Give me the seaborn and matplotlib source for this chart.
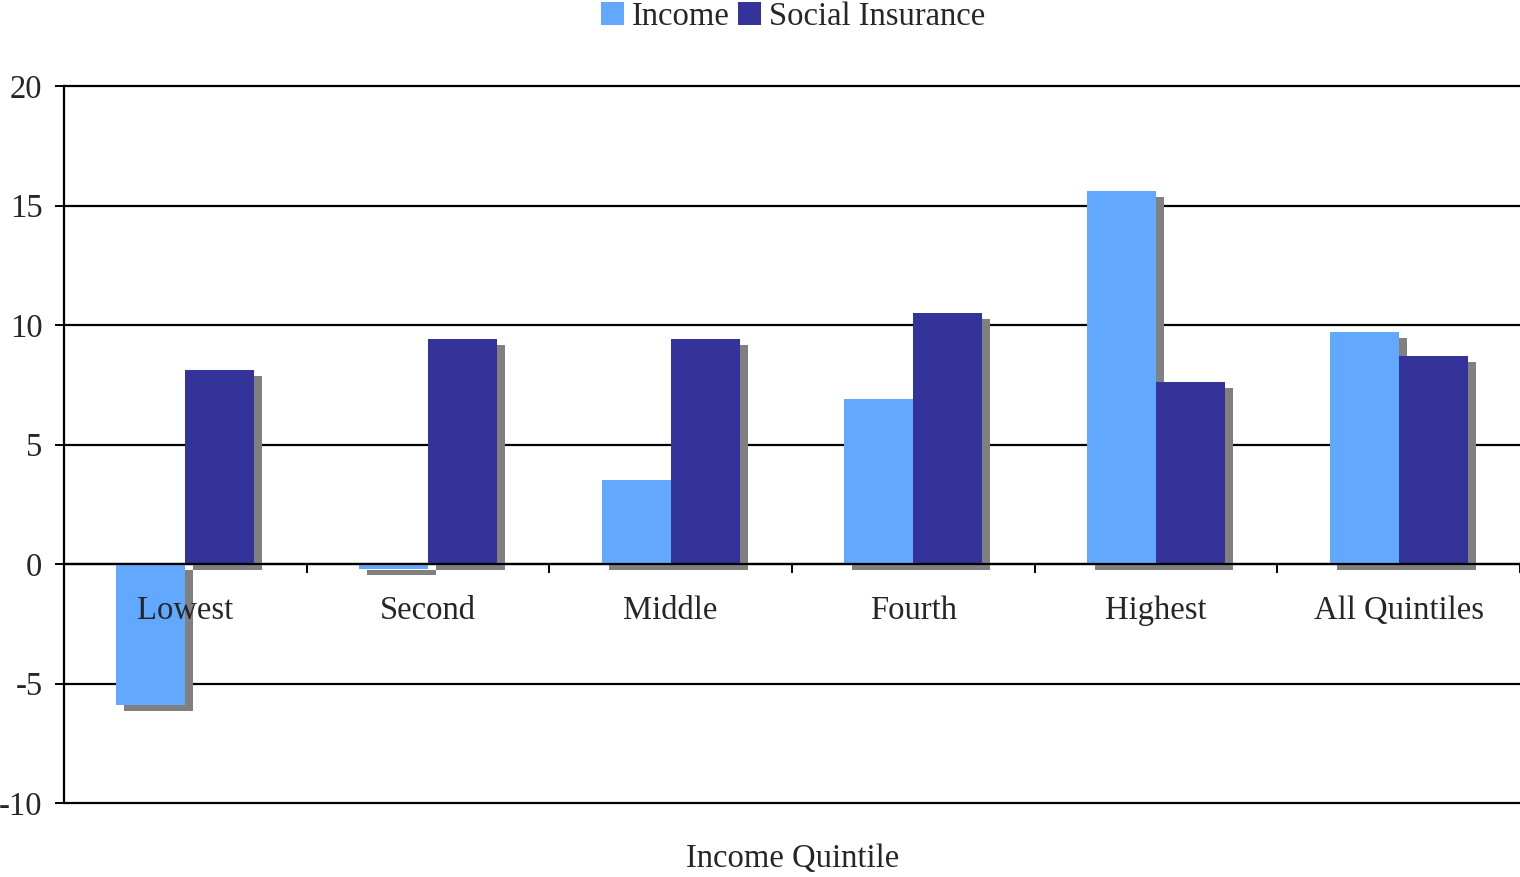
import matplotlib
matplotlib.use("Agg")
import matplotlib.pyplot as plt
from matplotlib.patches import Patch
from matplotlib import patheffects
import seaborn as sns
import pandas as pd

quintiles = ["Lowest", "Second", "Middle", "Fourth", "Highest", "All Quintiles"]
series_names = ["Income", "Social Insurance"]
income = [-5.9, -0.2, 3.5, 6.9, 15.6, 9.7]
social_insurance = [8.1, 9.4, 9.4, 10.5, 7.6, 8.7]
y_ticks = [-10, -5, 0, 5, 10, 15, 20]
colors = ["#62A8FF", "#333399"]

df = pd.DataFrame({
    "Quintile": quintiles * 2,
    "Series": [series_names[0]] * len(quintiles) + [series_names[1]] * len(quintiles),
    "Value": income + social_insurance,
})

sns.set_style("white")
plt.rcParams["font.family"] = ["Liberation Serif", "DejaVu Serif"]

fig = plt.figure(figsize=(15.2, 8.77), dpi=100)
ax = fig.add_axes([64 / 1520, 74 / 877, 1 - 64 / 1520, 717 / 877])

sns.barplot(data=df, x="Quintile", y="Value", hue="Series", order=quintiles,
            hue_order=series_names, palette=colors, width=0.57, saturation=1,
            edgecolor="none", linewidth=0, legend=False, ax=ax)

# drop shadow behind each bar
shadow = [patheffects.SimplePatchShadow(offset=(5.7, -4.3), shadow_rgbFace="#808080", alpha=1.0),
          patheffects.Normal()]
for p in ax.patches:
    p.set_path_effects(shadow)

ax.set_ylim(-10, 20)
ax.set_xlim(-0.5, len(quintiles) - 0.5)
ax.set_yticks(y_ticks)
ax.set_yticklabels([str(v) for v in y_ticks])
ax.yaxis.grid(True, color="black", linewidth=1.6)
for gl in ax.get_ygridlines():
    gl.set_clip_on(False)
# horizontal grid behind the bars, category labels in front of them
ax.yaxis.set_zorder(0.5)
ax.xaxis.set_zorder(3)

for side in ["top", "right"]:
    ax.spines[side].set_visible(False)
ax.spines["left"].set_color("black")
ax.spines["left"].set_linewidth(1.6)
ax.spines["bottom"].set_position(("data", 0))
ax.spines["bottom"].set_color("black")
ax.spines["bottom"].set_linewidth(1.6)
ax.spines["bottom"].set_zorder(3)

ax.tick_params(axis="y", which="major", direction="out", length=6.5, width=1.4,
               color="black", pad=9, labelsize=23.5, left=True)
ax.set_xticks(range(len(quintiles)))
ax.set_xticklabels(quintiles)
ax.tick_params(axis="x", which="major", length=0, pad=23, labelsize=23.5, bottom=True)
ax.set_xticks([i + 0.5 for i in range(len(quintiles))], minor=True)
ax.tick_params(axis="x", which="minor", direction="out", length=6.5, width=1.4,
               color="black", bottom=True)
ax.set_xlabel("")
ax.set_ylabel("")

fig.text(793 / 1520, 1 - 859 / 877, "Income Quintile", ha="center", va="center", fontsize=23.5)

handles = [Patch(facecolor=c, edgecolor="none") for c in colors]
fig.legend(handles, series_names, loc="upper center", bbox_to_anchor=(793 / 1520, 1.021),
           ncol=2, frameon=False, fontsize=23.5, handlelength=0.7, handleheight=0.7,
           handletextpad=0.25, columnspacing=0.25, borderpad=0.1)

fig.savefig("out.png", dpi=100, facecolor="white")
